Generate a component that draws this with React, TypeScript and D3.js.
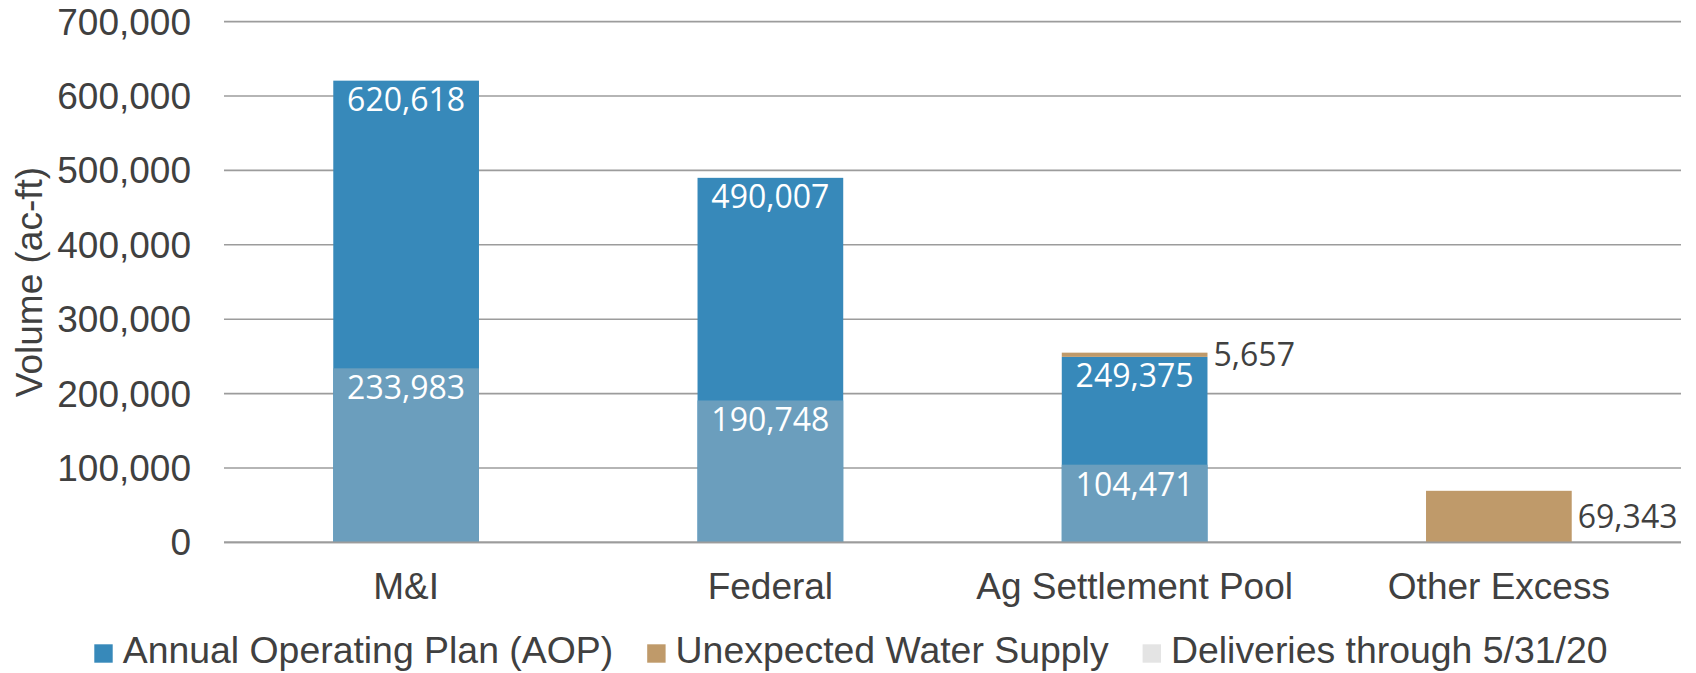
import React, { useEffect, useRef } from 'react';
import * as d3 from 'd3';

const categories = ['M&I', 'Federal', 'Ag Settlement Pool', 'Other Excess'];
const aopValues = [620618, 490007, 249375, 0];
const unexpectedValues = [0, 0, 5657, 69343];
const deliveryValues = [233983, 190748, 104471, 0];
const yTicks = [0, 100000, 200000, 300000, 400000, 500000, 600000, 700000];
const seriesNames = ['Annual Operating Plan (AOP)', 'Unexpected Water Supply', 'Deliveries through 5/31/20'];
const legendColors = ['#3789BA', '#BF9A6A', '#E4E4E4'];

const App = () => {
    const ref = useRef<SVGSVGElement>(null);

    const graph = () => {
        const svgCanvas = d3.select(ref.current);
        svgCanvas.selectAll('*').remove();

        const width = 1696,
        height = 673,
        margin = { top: 21.6, right: 15, bottom: 130.6, left: 224 };

        const axisFont = 'Liberation Sans, Arial, sans-serif';
        const labelFont = 'Open Sans, Noto Sans, sans-serif';
        const textColor = '#404040';
        const fmt = d3.format(',');

        const x = d3.scaleBand().domain(categories)
        .range([margin.left, width - margin.right])
        .paddingInner(0.6)
        .paddingOuter(0.3);

        const y = d3.scaleLinear()
        .domain([0, 700000])
        .range([height - margin.bottom, margin.top]);

        // gridlines
        svgCanvas.append('g').selectAll('line')
        .data(yTicks)
        .enter()
        .append('line')
        .attr('x1', margin.left).attr('x2', width - margin.right)
        .attr('y1', d => y(d)).attr('y2', d => y(d))
        .attr('stroke', '#9c9c9c')
        .attr('stroke-width', 1.6);

        // tick labels
        svgCanvas.append('g').selectAll('text')
        .data(yTicks)
        .enter()
        .append('text')
        .attr('x', 191)
        .attr('y', d => y(d))
        .attr('dy', '0.35em')
        .attr('text-anchor', 'end')
        .style('font-family', axisFont)
        .style('font-size', '37px')
        .style('fill', textColor)
        .text(d => fmt(d));

        svgCanvas.append('text')
        .attr('transform', `translate(42, ${(y(0) + y(700000)) / 2}) rotate(-90)`)
        .attr('text-anchor', 'middle')
        .style('font-family', axisFont)
        .style('font-size', '37px')
        .style('fill', textColor)
        .text('Volume (ac-ft)');

        const rows = categories.map((c, i) => ({
            name: c,
            aop: aopValues[i],
            unexpected: unexpectedValues[i],
            delivery: deliveryValues[i]
        }));

        // AOP bars
        svgCanvas.append('g').selectAll('rect')
        .data(rows.filter(d => d.aop > 0))
        .enter()
        .append('rect')
        .attr('x', d => x(d.name))
        .attr('width', x.bandwidth())
        .attr('y', d => y(d.aop))
        .attr('height', d => y(0) - y(d.aop))
        .attr('fill', '#3789BA');

        // unexpected supply stacked on AOP
        svgCanvas.append('g').selectAll('rect')
        .data(rows.filter(d => d.unexpected > 0))
        .enter()
        .append('rect')
        .attr('x', d => x(d.name))
        .attr('width', x.bandwidth())
        .attr('y', d => y(d.aop + d.unexpected))
        .attr('height', d => y(d.aop) - y(d.aop + d.unexpected))
        .attr('fill', '#BF9A6A');

        // deliveries overlay
        svgCanvas.append('g').selectAll('rect')
        .data(rows.filter(d => d.delivery > 0))
        .enter()
        .append('rect')
        .attr('x', d => x(d.name))
        .attr('width', x.bandwidth())
        .attr('y', d => y(d.delivery))
        .attr('height', d => y(0) - y(d.delivery))
        .attr('fill', '#6B9EBD');

        // baseline over bars
        svgCanvas.append('line')
        .attr('x1', margin.left).attr('x2', width - margin.right)
        .attr('y1', y(0)).attr('y2', y(0))
        .attr('stroke', '#9c9c9c')
        .attr('stroke-width', 1.6);

        // value labels
        svgCanvas.append('g').selectAll('text')
        .data(rows.filter(d => d.aop > 0))
        .enter()
        .append('text')
        .attr('x', d => x(d.name) + x.bandwidth() / 2)
        .attr('y', d => y(d.aop) + 30)
        .attr('text-anchor', 'middle')
        .style('font-family', labelFont)
        .style('font-size', '32px')
        .style('fill', '#ffffff')
        .text(d => fmt(d.aop));

        svgCanvas.append('g').selectAll('text')
        .data(rows.filter(d => d.delivery > 0))
        .enter()
        .append('text')
        .attr('x', d => x(d.name) + x.bandwidth() / 2)
        .attr('y', d => y(d.delivery) + 31)
        .attr('text-anchor', 'middle')
        .style('font-family', labelFont)
        .style('font-size', '32px')
        .style('fill', '#ffffff')
        .text(d => fmt(d.delivery));

        svgCanvas.append('g').selectAll('text')
        .data(rows.filter(d => d.unexpected > 0))
        .enter()
        .append('text')
        .attr('x', d => x(d.name) + x.bandwidth() + 6)
        .attr('y', d => (y(d.aop) + y(d.aop + d.unexpected)) / 2 + 11)
        .attr('text-anchor', 'start')
        .style('font-family', labelFont)
        .style('font-size', '32px')
        .style('fill', textColor)
        .text(d => fmt(d.unexpected));

        // category labels
        svgCanvas.append('g').selectAll('text')
        .data(categories)
        .enter()
        .append('text')
        .attr('x', d => x(d) + x.bandwidth() / 2)
        .attr('y', 599)
        .attr('text-anchor', 'middle')
        .style('font-family', axisFont)
        .style('font-size', '37px')
        .style('fill', textColor)
        .text(d => d);

        // legend
        const legend = svgCanvas.append('g').attr('class', 'legend');
        let lx = 94.3;
        seriesNames.forEach((name, i) => {
            legend.append('rect')
            .attr('x', lx).attr('y', 644.3)
            .attr('width', 18.4).attr('height', 18.4)
            .attr('fill', legendColors[i]);
            const t = legend.append('text')
            .attr('x', lx + 28.4).attr('y', 663.3)
            .style('font-family', axisFont)
            .style('font-size', '37.4px')
            .style('fill', textColor)
            .text(name);
            const w = (t.node() as SVGTextElement).getComputedTextLength();
            lx = lx + 28.4 + w + 34;
        });
    };

    useEffect(() => graph());

    return (
        <>
            <svg ref={ref} width="1696" height="673" style={{ position: 'absolute', left: 0, top: 0 }}></svg>
        </>
    );
};

export default App;
